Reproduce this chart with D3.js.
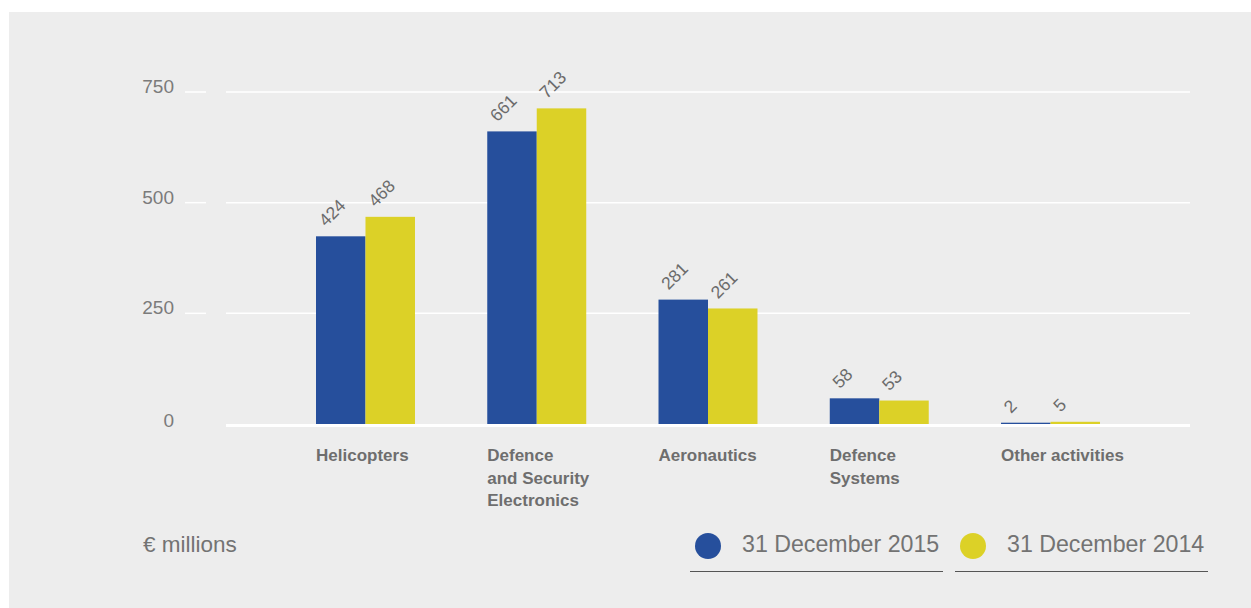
<!DOCTYPE html>
<html>
<head>
<meta charset="utf-8">
<script src="https://cdn.jsdelivr.net/npm/d3@7"></script>
<style>
  html, body { margin: 0; padding: 0; background: #ffffff; }
  svg { display: block; }
  text { font-family: "Liberation Sans", Arial, sans-serif; }
</style>
</head>
<body>
<svg id="chart" width="1251" height="608"></svg>
<script>
const categories = ["Helicopters", "Defence\nand Security\nElectronics", "Aeronautics", "Defence\nSystems", "Other activities"];
const seriesNames = ["31 December 2015", "31 December 2014"];
const values2015 = [424, 661, 281, 58, 2];
const values2014 = [468, 713, 261, 53, 5];
const yTicks = [0, 250, 500, 750];
const unitLabel = "€ millions";
const colors = ["#264f9c", "#dcd127"];

const svg = d3.select("#chart");
svg.append("rect").attr("x", 9).attr("y", 12).attr("width", 1242).attr("height", 596).attr("fill", "#ededed");

const y = d3.scaleLinear().domain([0, 750]).range([424, 92]);
const x = d3.scaleBand().domain(categories).range([316, 1100]).paddingInner(0.422).paddingOuter(0);
const xs = d3.scaleBand().domain(seriesNames).range([0, x.bandwidth()]).padding(0);

// gridlines
const grid = svg.append("g");
yTicks.filter(t => t > 0).forEach(t => {
  grid.append("line").attr("x1", 185).attr("x2", 206).attr("y1", y(t)).attr("y2", y(t))
    .attr("stroke", "#ffffff").attr("stroke-width", 1.5);
  grid.append("line").attr("x1", 226).attr("x2", 1190).attr("y1", y(t)).attr("y2", y(t))
    .attr("stroke", "#ffffff").attr("stroke-width", 1.5);
});

// y tick labels
svg.append("g").selectAll("text").data(yTicks).join("text")
  .attr("x", 174).attr("y", d => y(d) + (d === 0 ? 3 : 1))
  .attr("text-anchor", "end")
  .attr("font-size", 19).attr("fill", "#7b7b7b")
  .text(d => d);

// baseline
svg.append("line").attr("x1", 226).attr("x2", 1190).attr("y1", y(0) + 1.5).attr("y2", y(0) + 1.5)
  .attr("stroke", "#ffffff").attr("stroke-width", 3);

// bars
const seriesData = [values2015, values2014];
const groups = svg.append("g").selectAll("g").data(categories).join("g")
  .attr("transform", d => `translate(${x(d)},0)`);

groups.selectAll("rect").data((d, i) => seriesNames.map((s, j) => ({s, j, v: seriesData[j][i]})))
  .join("rect")
  .attr("x", d => xs(d.s))
  .attr("y", d => Math.min(y(d.v), y(0) - 1.3))
  .attr("width", xs.bandwidth())
  .attr("height", d => Math.max(y(0) - y(d.v), 1.3))
  .attr("fill", d => colors[d.j]);

// value labels
groups.selectAll("text.val").data((d, i) => seriesNames.map((s, j) => ({s, j, v: seriesData[j][i]})))
  .join("text").attr("class", "val")
  .attr("transform", d => `translate(${xs(d.s) + 10},${y(d.v) - 9}) rotate(-45)`)
  .attr("font-size", 17.5).attr("fill", "#6b6b6b")
  .text(d => d.v);

// category labels
groups.append("text")
  .attr("y", 461)
  .attr("font-size", 17).attr("font-weight", "bold").attr("fill", "#6e6e6e")
  .selectAll("tspan").data(d => d.split("\n")).join("tspan")
  .attr("x", 0).attr("dy", (d, i) => i === 0 ? 0 : 22.5)
  .text(d => d);

// unit label
svg.append("text").attr("x", 143).attr("y", 552).attr("font-size", 22.5).attr("fill", "#737373").text(unitLabel);

// legend
const legendX = [690, 955];
const leg = svg.append("g").selectAll("g").data(seriesNames).join("g")
  .attr("transform", (d, i) => `translate(${legendX[i]},0)`);
leg.append("circle").attr("cx", 18).attr("cy", 546).attr("r", 13).attr("fill", (d, i) => colors[i]);
leg.append("text").attr("x", 52).attr("y", 552).attr("font-size", 23.2).attr("fill", "#737373").text(d => d);
leg.append("line").attr("x1", 0).attr("x2", 253).attr("y1", 571.5).attr("y2", 571.5)
  .attr("stroke", "#555555").attr("stroke-width", 1.2);
</script>
</body>
</html>
